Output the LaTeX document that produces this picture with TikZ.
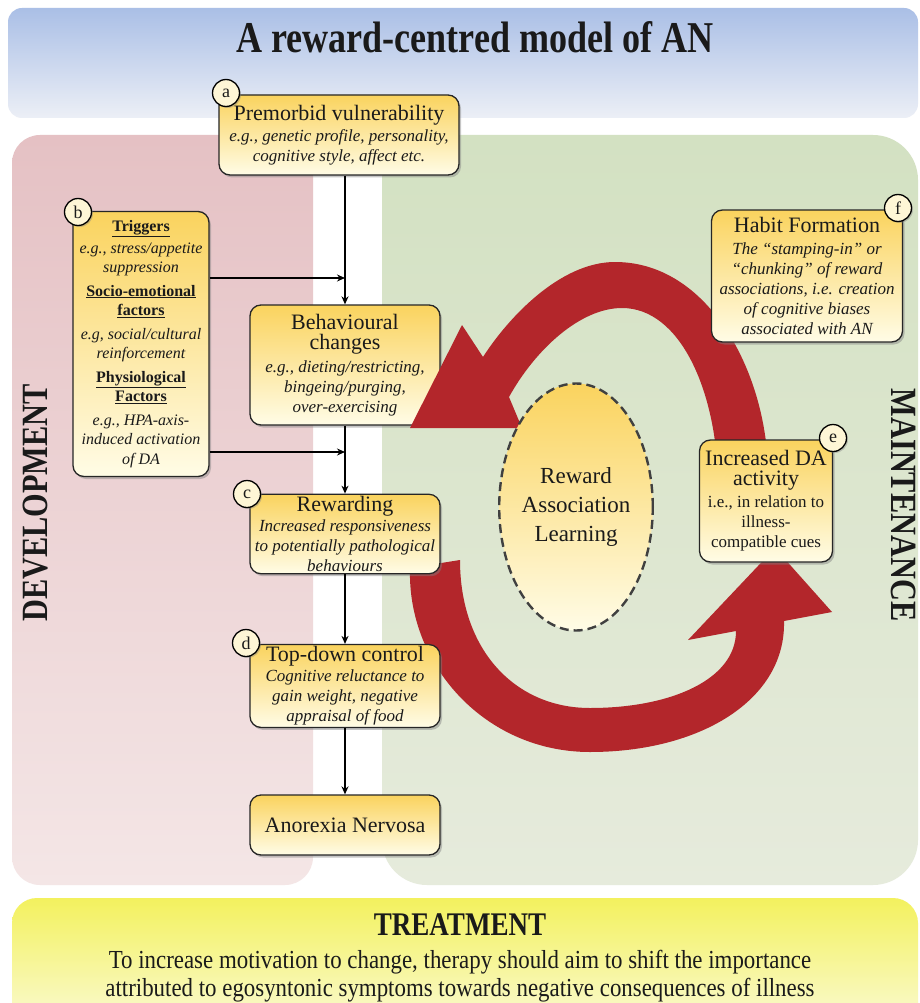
\documentclass[tikz,border=0pt]{standalone}
\usepackage{fontspec}
\setmainfont{Liberation Serif}
\newfontfamily\condfont[FakeStretch=0.82]{Liberation Serif}
\newfontfamily\bodyfont[FakeStretch=0.88]{Liberation Serif}
\usetikzlibrary{shadows,arrows.meta,shapes.geometric}
\definecolor{boxtop}{HTML}{FAD35E}
\definecolor{boxbot}{HTML}{FFFCE6}
\definecolor{arrowred}{HTML}{B3262B}
\definecolor{bluetop}{HTML}{AABFE6}
\definecolor{bluebot}{HTML}{ECEFF6}
\definecolor{pinktop}{HTML}{E5C1C4}
\definecolor{pinkbot}{HTML}{F4E6E6}
\definecolor{greentop}{HTML}{D3E1C2}
\definecolor{greenbot}{HTML}{E6EBDC}
\definecolor{yeltop}{HTML}{F3F15E}
\definecolor{yelbot}{HTML}{FBFBDF}
\definecolor{circfill}{HTML}{FEF6D6}
\definecolor{ink}{HTML}{1A1A1A}
\newcommand\hdline[1]{{\fontsize{22}{25}\selectfont #1}}
\begin{document}
\begin{tikzpicture}[x=1pt,y=-1pt,
  ybox/.style={draw=black!85, line width=1.3pt, rounded corners=11pt,
    top color=boxtop, bottom color=boxbot, text=ink,
    drop shadow={shadow xshift=2pt, shadow yshift=-2.5pt, opacity=0.45},
    align=center, inner sep=2pt, font=\fontsize{17}{20}\selectfont},
  circ/.style={circle, draw=black, line width=1.3pt, fill=circfill,
    minimum size=27pt, inner sep=0pt, text=ink,
    drop shadow={shadow xshift=1.5pt, shadow yshift=-1.5pt, opacity=0.4},
    font=\fontsize{18}{18}\selectfont},
  conn/.style={draw=black, line width=1.3pt, -{Stealth[length=8pt,width=7pt]}},
  redarrow/.style={fill=arrowred},
  sidelabel/.style={font=\condfont\bfseries\fontsize{37}{40}\selectfont, text=ink}
]
\useasboundingbox (0,0) rectangle (920,1003);
% backgrounds
\fill[white] (0,0) rectangle (920,1003);
\shade[top color=bluetop, bottom color=bluebot, rounded corners=14pt] (8,8) rectangle (918,118);
\shade[top color=pinktop, bottom color=pinkbot, rounded corners=28pt] (12,135) rectangle (313,885);
\shade[top color=greentop, bottom color=greenbot, rounded corners=45pt] (382,135) rectangle (918,885);
\shade[top color=yeltop, bottom color=yelbot, rounded corners=25pt] (12,898) rectangle (918,1040);

% title and side labels
\node[font=\condfont\bfseries\fontsize{44}{48}\selectfont, text=ink] (title) at (475,37) {A reward-centred model of AN};
\node[sidelabel, rotate=90] (dev) at (36,503) {DEVELOPMENT};
\node[sidelabel, rotate=-90] (mnt) at (904,505) {MAINTENANCE};
\node[font=\condfont\bfseries\fontsize{33}{36}\selectfont, text=ink] (trt) at (460,925) {TREATMENT};
\node[font=\bodyfont\fontsize{26}{28}\selectfont, align=center, text=ink] (trtxt) at (460,976)
  {To increase motivation to change, therapy should aim to shift the importance\\
   attributed to egosyntonic symptoms towards negative consequences of illness};

% behavioural changes box (under the upper red arrow head)
\node[ybox, minimum width=190pt, minimum height=120pt] (beh) at (345,365)
  {\hdline{Behavioural}\\ \hdline{changes}\\[3pt]
   \itshape e.g., dieting/restricting,\\ \itshape bingeing/purging,\\ \itshape over-exercising};

% red circular arrows
\fill[redarrow] (768,480) .. controls (770,380) and (712,262) .. (615,262)
  .. controls (560,262) and (508,318) .. (483,357) -- (462,325) -- (410,428) -- (522,428)
  -- (509,397) .. controls (535,350) and (580,308) .. (622,308)
  .. controls (680,308) and (716,390) .. (718,480) -- cycle;
\fill[redarrow] (460,560) -- (410,568) .. controls (407,665) and (485,752) .. (590,752)
  .. controls (700,752) and (786,700) .. (784,621) -- (832,612) -- (775,548) -- (688,640)
  -- (736,631) .. controls (736,680) and (670,708) .. (590,708)
  .. controls (515,708) and (460,650) .. (460,560) -- cycle;

% other boxes
\node[ybox, minimum width=240pt, minimum height=80pt] (a) at (339,135)
  {\hdline{Premorbid vulnerability}\\[1pt]
   \itshape e.g., genetic profile, personality,\\ \itshape cognitive style, affect etc.};
\node[ybox, minimum width=136pt, minimum height=265pt, font=\fontsize{16}{19.5}\selectfont] (b) at (141,344)
  {\textbf{\underline{Triggers}}\\[2pt]
   \itshape e.g., stress/appetite\\ \itshape suppression\\[4pt]
   \textbf{\underline{Socio-emotional}}\\ \textbf{\underline{factors}}\\[4pt]
   \itshape e.g, social/cultural\\ \itshape reinforcement\\[4pt]
   \textbf{\underline{Physiological}}\\ \textbf{\underline{Factors}}\\[4pt]
   \itshape e.g., HPA-axis-\\ \itshape induced activation\\ \itshape of DA};
\node[ybox, minimum width=190pt, minimum height=79pt] (c) at (345,534)
  {\hdline{Rewarding}\\
   \itshape Increased responsiveness\\ \itshape to potentially pathological\\ \itshape behaviours};
\node[ybox, minimum width=190pt, minimum height=78pt] (d) at (345,686)
  {\hdline{Top-down control}\\
   \itshape Cognitive reluctance to\\ \itshape gain weight, negative\\ \itshape appraisal of food};
\node[ybox, minimum width=190pt, minimum height=60pt] (an) at (345,825)
  {\hdline{Anorexia Nervosa}};
\node[ybox, minimum width=191pt, minimum height=132pt] (f) at (807,276)
  {\hdline{Habit Formation}\\[2pt]
   \itshape The “stamping-in” or\\ \itshape “chunking” of reward\\ \itshape associations, i.e. creation\\
   \itshape of cognitive biases\\ \itshape associated with AN};
\node[ybox, minimum width=133pt, minimum height=122pt] (e) at (766,501)
  {\hdline{Increased DA}\\ \hdline{activity}\\[2pt]
   i.e., in relation to\\ illness-\\ compatible cues};
\node[ellipse, draw=black!75, line width=2.4pt, dash pattern=on 9pt off 5pt,
  top color=boxtop, bottom color=boxbot, minimum width=142pt, minimum height=247pt,
  inner sep=0pt, align=center, text=ink, font=\fontsize{23}{29}\selectfont] (ral) at (576,507)
  {Reward\\Association\\Learning};

% connectors
\draw[conn] (beh.north |- a.south) -- (beh.north);
\coordinate (j1) at (345,278);
\draw[conn] (b.east |- j1) -- (j1);
\draw[conn] (beh.south) -- (c.north);
\coordinate (j2) at (345,452);
\draw[conn] (b.east |- j2) -- (j2);
\draw[conn] (c.south) -- (d.north);
\draw[conn] (d.south) -- (an.north);

% letter circles
\node[circ] (ca) at (226,93) {a};
\node[circ] (cb) at (78,212) {b};
\node[circ] (cc) at (247,494) {c};
\node[circ] (cd) at (246,643) {d};
\node[circ] (ce) at (833,438) {e};
\node[circ] (cf) at (898,208) {f};
\end{tikzpicture}
\end{document}
